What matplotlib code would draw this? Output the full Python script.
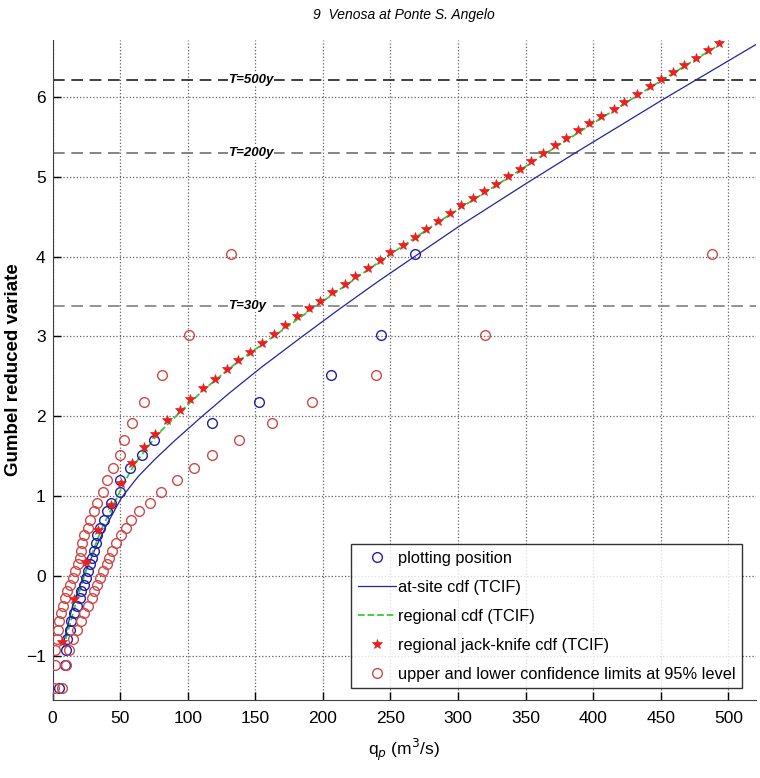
import matplotlib
matplotlib.use("Agg")
import matplotlib.pyplot as plt

plt.rcParams['font.family'] = ['Liberation Sans', 'DejaVu Sans']

# plotting position (Gumbel reduced variate vs peak discharge)
pp_q = [5, 9, 10, 11, 13, 14, 16, 18, 20, 21, 23, 25, 26, 28, 29, 31,
        32, 33, 35, 38, 40, 43, 50, 50, 57, 66, 75, 118, 153, 206, 243, 268]
pp_y = [-1.40, -1.11, -0.93, -0.79, -0.67, -0.56, -0.46, -0.37, -0.28, -0.19, -0.11,
        -0.02, 0.06, 0.15, 0.23, 0.32, 0.41, 0.51, 0.60, 0.70, 0.81, 0.92, 1.05,
        1.20, 1.35, 1.52, 1.70, 1.92, 2.18, 2.52, 3.02, 4.03]

# confidence limits at 95% (lower q, upper q) at the same plotting positions
ci_low = [1, 1.5, 2, 3, 4, 5, 6.5, 7.5, 9, 11, 13, 15, 17, 18.5, 20, 21, 22, 23.5,
          26, 28, 31, 33, 37, 40, 45, 50, 53, 59, 68, 81, 101, 132]
ci_high = [7, 10, 12, 15, 18, 21, 23, 26, 29, 31, 33, 35, 37, 40, 42, 44, 47, 51,
           54, 58, 64, 72, 80, 92, 105, 118, 138, 162, 192, 239, 320, 488]

# at-site cdf (TCIF)
site_q = [8, 15, 23, 31, 40, 51, 63, 75, 90, 110, 130, 155, 184, 212, 241, 267,
          300, 350, 386, 420, 450, 471, 500, 520]
site_y = [-0.85, -0.36, 0.0, 0.32, 0.64, 0.98, 1.24, 1.45, 1.69, 1.99, 2.28, 2.62,
          2.99, 3.34, 3.69, 3.99, 4.37, 4.91, 5.29, 5.64, 5.95, 6.16, 6.45, 6.65]

# regional cdf (TCIF)
reg_q = [8, 18, 27, 36, 45, 53, 61, 78, 96, 113, 139, 166, 200, 244, 287, 330,
         374, 417, 452, 495]
reg_y = [-0.90, -0.29, 0.18, 0.58, 0.89, 1.17, 1.41, 1.78, 2.08, 2.35, 2.71, 3.03,
         3.44, 3.96, 4.45, 4.91, 5.39, 5.85, 6.22, 6.67]

# regional jack-knife cdf (TCIF)
jk_q = [7, 16, 25, 34, 43, 51, 59, 68, 76, 85, 94, 102, 111, 120, 129, 137, 146,
        155, 164, 172, 181, 190, 198, 207, 216, 224, 233, 242, 250, 259, 268, 276,
        285, 294, 302, 311, 319, 328, 337, 346, 354, 363, 372, 380, 389, 397, 406,
        415, 423, 432, 442, 450, 459, 467, 476, 485, 493]
jk_y = [-0.83, -0.29, 0.18, 0.58, 0.89, 1.17, 1.41, 1.61, 1.78, 1.95, 2.08, 2.22,
        2.35, 2.47, 2.59, 2.71, 2.81, 2.92, 3.03, 3.14, 3.25, 3.35, 3.44, 3.55,
        3.66, 3.76, 3.86, 3.96, 4.06, 4.15, 4.25, 4.35, 4.45, 4.54, 4.64, 4.73,
        4.82, 4.91, 5.01, 5.10, 5.20, 5.29, 5.39, 5.48, 5.58, 5.67, 5.76, 5.85,
        5.94, 6.04, 6.13, 6.22, 6.31, 6.40, 6.49, 6.58, 6.67]

# return period lines
T_labels = ["T=500y", "T=200y", "T=30y"]
T_y = [6.214, 5.296, 3.384]
T_colors = ["#202020", "#707070", "#808080"]

fig = plt.figure(figsize=(7.6, 7.78), dpi=100)
ax = fig.add_axes([0.0691, 0.1003, 0.925, 0.8483])

ax.grid(True, linestyle=":", color="#606060", linewidth=0.9)
ax.set_axisbelow(True)

for lab, yv, col in zip(T_labels, T_y, T_colors):
    ax.axhline(yv, color=col, linestyle=(0, (7, 4)), linewidth=1.2, zorder=1)
    ax.text(130, yv, lab, fontsize=9.5, style="italic", fontweight="bold",
            va="center", ha="left", zorder=2,
            bbox=dict(facecolor="white", edgecolor="none", pad=0.5))

ax.plot(pp_q, pp_y, "o", mfc="none", mec="#1f1fa8", ms=7, mew=1.0,
        label="plotting position", zorder=4)
ax.plot(site_q, site_y, "-", color="#2323a0", lw=0.9,
        label="at-site cdf (TCIF)", zorder=3)
ax.plot(reg_q, reg_y, "--", color="#33cc33", lw=1.3,
        label="regional cdf (TCIF)", zorder=3)
ax.plot(jk_q, jk_y, "*", color="#e82020", ms=7.5, mew=0.5,
        label="regional jack-knife cdf (TCIF)", zorder=5)
ax.plot(ci_low, pp_y, "o", mfc="none", mec="#d04848", ms=7, mew=1.0,
        label="upper and lower confidence limits at 95% level", zorder=4)
ax.plot(ci_high, pp_y, "o", mfc="none", mec="#d04848", ms=7, mew=1.0, zorder=4)

ax.set_xlim(0, 520)
ax.set_ylim(-1.55, 6.71)
ax.set_xticks(range(0, 501, 50))
ax.set_yticks(range(-1, 7))
ax.tick_params(direction="in", labelsize=12.5, length=6, width=1.0)
ax.tick_params(axis="x", pad=8)
ax.tick_params(axis="y", pad=5)
ax.spines["top"].set_visible(False)
ax.spines["right"].set_visible(False)
for s in ("left", "bottom"):
    ax.spines[s].set_color("#404040")

ax.set_title("9  Venosa at Ponte S. Angelo", fontsize=10, style="italic", pad=15)
ax.set_xlabel("q$_p$ (m$^3$/s)", fontsize=12.5, labelpad=8)
ax.set_ylabel("Gumbel reduced variate", fontsize=13.5, fontweight="bold")
ax.yaxis.set_label_coords(-0.043, 0.5)

leg = ax.legend(loc="lower right", bbox_to_anchor=(0.981, 0.018), fontsize=11.8,
                frameon=True, fancybox=False, edgecolor="black",
                handlelength=2.3, handletextpad=0.15, borderpad=0.4,
                borderaxespad=0, labelspacing=0.85)
leg.get_frame().set_linewidth(1.0)

fig.savefig("out.png", dpi=100)
